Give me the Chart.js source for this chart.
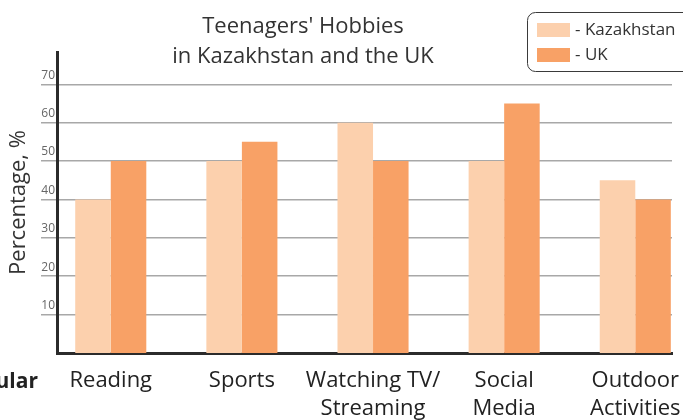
<!DOCTYPE html>
<html>
<head>
<meta charset="utf-8">
<script src="https://cdn.jsdelivr.net/npm/chart.js@4.4.1/dist/chart.umd.min.js"></script>
<style>
  html, body { margin: 0; padding: 0; background: #fff; }
  #wrap { width: 683px; height: 420px; position: relative; }
</style>
</head>
<body>
<div id="wrap"><canvas id="chart"></canvas></div>
<script>
const categories = [['Reading'], ['Sports'], ['Watching TV/', 'Streaming'], ['Social', 'Media'], ['Outdoor', 'Activities']];
const kazakhstan = [40, 50, 60, 50, 45];
const uk = [50, 55, 50, 65, 40];
const yTicks = [10, 20, 30, 40, 50, 60, 70];
const titleLines = ["Teenagers' Hobbies", 'in Kazakhstan and the UK'];

const FONT = "'Open Sans', 'DejaVu Sans', sans-serif";

// title, legend box and the cut-off word at the left edge
const extras = {
  id: 'extras',
  afterDraw(chart) {
    const ctx = chart.ctx;
    ctx.save();
    ctx.fillStyle = '#333';
    ctx.font = '22px ' + FONT;
    ctx.textAlign = 'center';
    ctx.textBaseline = 'alphabetic';
    ctx.fillText(titleLines[0], 303, 33);
    ctx.fillText(titleLines[1], 303, 63);

    // legend
    ctx.strokeStyle = '#3a3a3a';
    ctx.lineWidth = 1;
    ctx.beginPath();
    ctx.roundRect(527.5, 12.5, 170, 59, 8);
    ctx.stroke();
    ctx.font = '17px ' + FONT;
    ctx.textAlign = 'left';
    ctx.textBaseline = 'middle';
    chart.data.datasets.forEach((ds, i) => {
      const y = 23 + i * 25;
      ctx.fillStyle = ds.backgroundColor;
      ctx.fillRect(537, y, 33, 14);
      ctx.fillStyle = '#333';
      ctx.fillText('- ' + ds.label, 575, y + 7);
    });

    ctx.font = 'bold 21px ' + FONT;
    ctx.textAlign = 'right';
    ctx.textBaseline = 'alphabetic';
    ctx.fillStyle = '#222';
    ctx.fillText('Popular', 38, 388);
    ctx.restore();
  }
};

new Chart(document.getElementById('chart'), {
  type: 'bar',
  data: {
    datasets: [
      {
        label: 'Kazakhstan',
        data: kazakhstan.map((v, i) => ({ x: i, y: v })),
        backgroundColor: '#fcd0ad',
      },
      {
        label: 'UK',
        data: uk.map((v, i) => ({ x: i, y: v })),
        backgroundColor: '#f8a166',
      },
    ],
  },
  options: {
    responsive: true,
    maintainAspectRatio: false,
    animation: false,
    layout: { padding: { top: 52, right: 11, left: 0, bottom: 0 } },
    datasets: { bar: { categoryPercentage: 0.542, barPercentage: 1 } },
    plugins: {
      legend: { display: false },
      tooltip: { enabled: false },
    },
    scales: {
      x: {
        type: 'linear',
        offset: false,
        min: -0.41,
        max: 4.28,
        z: 1,
        afterBuildTicks: (s) => { s.ticks = categories.map((c, i) => ({ value: i })); },
        afterFit: (s) => { s.height = 67; s.paddingLeft = 0; s.paddingRight = 0; },
        grid: { display: false, drawTicks: false, offset: false },
        border: { color: '#2b2b2b', width: 3 },
        ticks: {
          autoSkip: false,
          maxRotation: 0,
          padding: 14,
          color: '#222',
          font: { family: FONT, size: 22, lineHeight: 1.25 },
          callback: (v) => categories[v],
        },
      },
      y: {
        min: 0,
        max: 78.4,
        afterBuildTicks: (s) => { s.ticks = yTicks.map((v) => ({ value: v })); },
        afterFit: (s) => { s.width = 57; },
        grid: { color: '#a8a8a8', lineWidth: 1.5, tickLength: 16, tickColor: '#a8a8a8' },
        border: { color: '#2b2b2b', width: 3 },
        ticks: {
          autoSkip: false,
          padding: -14,
          labelOffset: -9,
          color: '#666',
          font: { family: FONT, size: 12 },
        },
        title: {
          display: true,
          text: 'Percentage, %',
          color: '#333',
          padding: { top: 6, bottom: 0 },
          font: { family: FONT, size: 22 },
        },
      },
    },
  },
  plugins: [extras],
});
</script>
</body>
</html>
